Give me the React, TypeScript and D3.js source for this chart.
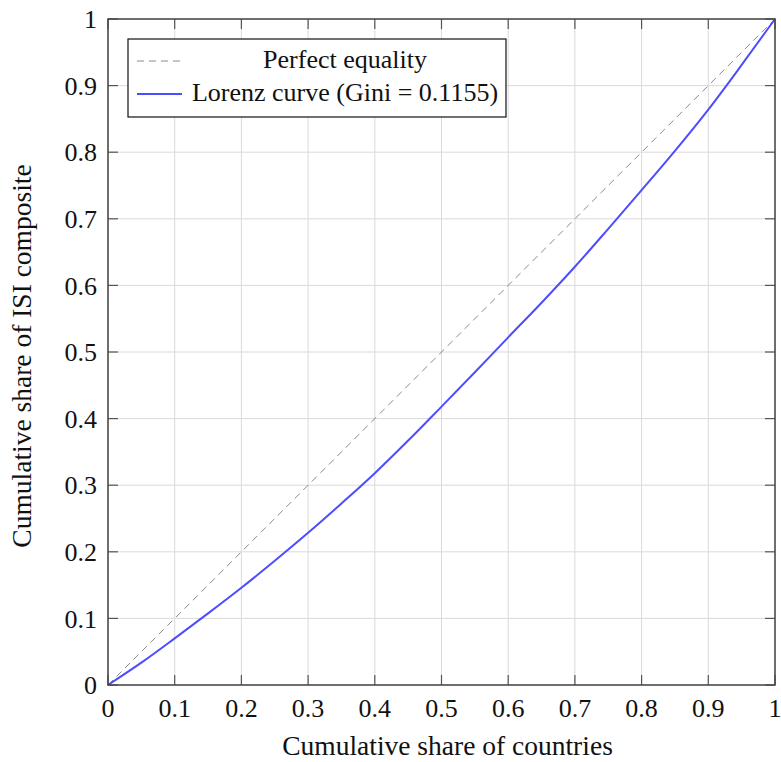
import React from "react";
import * as d3 from "d3";

const shareCountries = [0, 0.05, 0.1, 0.15, 0.2, 0.25, 0.3, 0.35, 0.4, 0.45, 0.5, 0.55, 0.6, 0.65, 0.7, 0.75, 0.8, 0.85, 0.9, 0.95, 1];
const shareISI = [0, 0.0335, 0.07, 0.1075, 0.146, 0.1865, 0.2285, 0.2725, 0.318, 0.367, 0.418, 0.4695, 0.522, 0.574, 0.628, 0.685, 0.743, 0.802, 0.864, 0.931, 1];
const equalityLine = [0, 1];
const tickValues = [0, 0.1, 0.2, 0.3, 0.4, 0.5, 0.6, 0.7, 0.8, 0.9, 1];
const legendLabels = ["Perfect equality", "Lorenz curve (Gini = 0.1155)"];
const xAxisLabel = "Cumulative share of countries";
const yAxisLabel = "Cumulative share of ISI composite";

const W = 781, H = 762;
const L = 108, R = 775, T = 19, B = 685;
const FONT = "Liberation Serif, DejaVu Serif, serif";
const FS = 26;
const tickFmt = (v: number) => (v === 0 ? "0" : v === 1 ? "1" : String(v));
const ts = { fontFamily: FONT, fontSize: FS } as React.CSSProperties;
const ls = { fontFamily: FONT, fontSize: 27.5 } as React.CSSProperties;

export default function App() {
  const x = d3.scaleLinear().domain([0, 1]).range([L, R]);
  const y = d3.scaleLinear().domain([0, 1]).range([B, T]);
  const pts: [number, number][] = shareCountries.map((c, i) => [c, shareISI[i]]);
  const line = d3.line<[number, number]>().x(d => x(d[0])).y(d => y(d[1])).curve(d3.curveMonotoneX);
  const eq: [number, number][] = equalityLine.map(v => [v, v]);
  const eqLine = d3.line<[number, number]>().x(d => x(d[0])).y(d => y(d[1]));
  const tl = 10;
  return (
    <svg width={W} height={H} style={{ position: "absolute", left: 0, top: 0 }}>
      <rect width={W} height={H} fill="#fff" />
      {tickValues.map(v => (
        <g key={"g" + v}>
          <line x1={x(v)} x2={x(v)} y1={T} y2={B} stroke="#dadada" strokeWidth={1} />
          <line x1={L} x2={R} y1={y(v)} y2={y(v)} stroke="#dadada" strokeWidth={1} />
        </g>
      ))}
      <path d={eqLine(eq) || ""} fill="none" stroke="#8a8a8a" strokeWidth={1} strokeDasharray="7 5" />
      <path d={line(pts) || ""} fill="none" stroke="#4d4dff" strokeWidth={2} />
      {tickValues.map(v => (
        <g key={"t" + v} stroke="#555" strokeWidth={1.2}>
          <line x1={x(v)} x2={x(v)} y1={B} y2={B - tl} />
          <line x1={x(v)} x2={x(v)} y1={T} y2={T + tl} />
          <line x1={L} x2={L + tl} y1={y(v)} y2={y(v)} />
          <line x1={R} x2={R - tl} y1={y(v)} y2={y(v)} />
        </g>
      ))}
      <rect x={L} y={T} width={R - L} height={B - T} fill="none" stroke="#444" strokeWidth={1.5} />
      {tickValues.map(v => (
        <text key={"xl" + v} x={x(v)} y={717} textAnchor="middle" style={ts} fill="#111">{tickFmt(v)}</text>
      ))}
      {tickValues.map(v => (
        <text key={"yl" + v} x={97} y={y(v)} dy="0.35em" textAnchor="end" style={ts} fill="#111">{tickFmt(v)}</text>
      ))}
      <text x={(L + R) / 2 + 6} y={755} textAnchor="middle" style={ls} fill="#111">{xAxisLabel}</text>
      <text transform={`translate(31,356) rotate(-90)`} textAnchor="middle" style={ls} fill="#111">{yAxisLabel}</text>
      <g>
        <rect x={128} y={39} width={378} height={78} fill="#fff" stroke="#111" strokeWidth={1.2} />
        <line x1={137} x2={182} y1={61} y2={61} stroke="#8a8a8a" strokeWidth={1} strokeDasharray="7 5" />
        <line x1={137} x2={182} y1={94} y2={94} stroke="#4d4dff" strokeWidth={2} />
        <text x={345} y={68} textAnchor="middle" style={ts} fill="#111">{legendLabels[0]}</text>
        <text x={345} y={101} textAnchor="middle" style={ts} fill="#111">{legendLabels[1]}</text>
      </g>
    </svg>
  );
}
